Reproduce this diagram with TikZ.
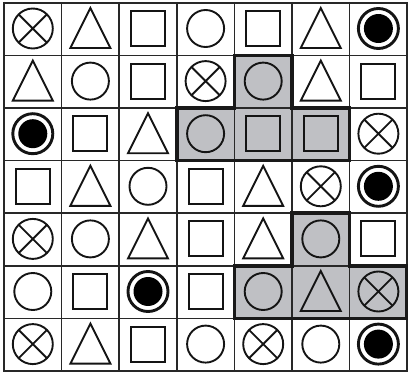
\documentclass[tikz,border=0pt]{standalone}
\usetikzlibrary{calc}
\definecolor{cellgrey}{RGB}{191,192,196}
\definecolor{gridc}{RGB}{40,40,40}
\newcommand\symC{\draw[sym] (p) circle[radius=18.5pt];}
\newcommand\symX{\draw[sym] (p) circle[radius=20pt];
  \draw[sym,shift={(p)}] (45:20pt) -- (225:20pt) (135:20pt) -- (-45:20pt);}
\newcommand\symS{\draw[sym,shift={(p)}] (-17pt,-17.5pt) rectangle (17pt,17.5pt);}
\newcommand\symT{\draw[sym,shift={(p)},line join=miter] (0pt,20.5pt) -- (20pt,-19.5pt) -- (-20pt,-19.5pt) -- cycle;}
\newcommand\symB{\draw[sym,line width=2.9pt] (p) circle[radius=20pt];
  \fill[black] (p) circle[radius=14.5pt];}
\begin{document}
\begin{tikzpicture}[x=1pt,y=-1pt,
  sym/.style={line width=1.9pt, draw=black!92},
  gridline/.style={line width=1.6pt, draw=gridc},
  regionline/.style={line width=3.6pt, draw=black!90, line join=miter},
  greycell/.style={fill=cellgrey}]
\useasboundingbox (0,0) rectangle (408,375);
\def\cw{57.6}\def\ch{52.6}\def\xo{4}\def\yo{2.7}
% grey cells
\foreach \c/\r in {5/2,4/3,5/3,6/3,6/5,5/6,6/6,7/6}
  \fill[greycell] ({\xo+(\c-1)*\cw},{\yo+(\r-1)*\ch}) rectangle ({\xo+\c*\cw},{\yo+\r*\ch});
% grid
\foreach \i in {0,...,7} {
  \draw[gridline] ({\xo+\i*\cw},{\yo-0.8}) -- ({\xo+\i*\cw},{\yo+7*\ch+0.8});
  \draw[gridline] ({\xo-0.8},{\yo+\i*\ch}) -- ({\xo+7*\cw+0.8},{\yo+\i*\ch});
}
% region outlines
\draw[regionline] ({\xo+4*\cw},{\yo+\ch}) -- ({\xo+5*\cw},{\yo+\ch}) -- ({\xo+5*\cw},{\yo+2*\ch})
  -- ({\xo+6*\cw},{\yo+2*\ch}) -- ({\xo+6*\cw},{\yo+3*\ch}) -- ({\xo+3*\cw},{\yo+3*\ch})
  -- ({\xo+3*\cw},{\yo+2*\ch}) -- ({\xo+4*\cw},{\yo+2*\ch}) -- cycle;
\draw[regionline] ({\xo+5*\cw},{\yo+4*\ch}) -- ({\xo+6*\cw},{\yo+4*\ch}) -- ({\xo+6*\cw},{\yo+5*\ch})
  -- ({\xo+7*\cw},{\yo+5*\ch}) -- ({\xo+7*\cw},{\yo+6*\ch}) -- ({\xo+4*\cw},{\yo+6*\ch})
  -- ({\xo+4*\cw},{\yo+5*\ch}) -- ({\xo+5*\cw},{\yo+5*\ch}) -- cycle;
% symbols
\foreach \t/\c/\r in {
  X/1/1,T/2/1,S/3/1,C/4/1,S/5/1,T/6/1,B/7/1,
  T/1/2,C/2/2,S/3/2,X/4/2,C/5/2,T/6/2,S/7/2,
  B/1/3,S/2/3,T/3/3,C/4/3,S/5/3,S/6/3,X/7/3,
  S/1/4,T/2/4,C/3/4,S/4/4,T/5/4,X/6/4,B/7/4,
  X/1/5,C/2/5,T/3/5,S/4/5,T/5/5,C/6/5,S/7/5,
  C/1/6,S/2/6,B/3/6,S/4/6,C/5/6,T/6/6,X/7/6,
  X/1/7,T/2/7,S/3/7,C/4/7,X/5/7,C/6/7,B/7/7} {
  \coordinate (p) at ({\xo+(\c-0.5)*\cw},{\yo+(\r-0.5)*\ch-0.5});
  \csname sym\t\endcsname
}
\end{tikzpicture}
\end{document}
